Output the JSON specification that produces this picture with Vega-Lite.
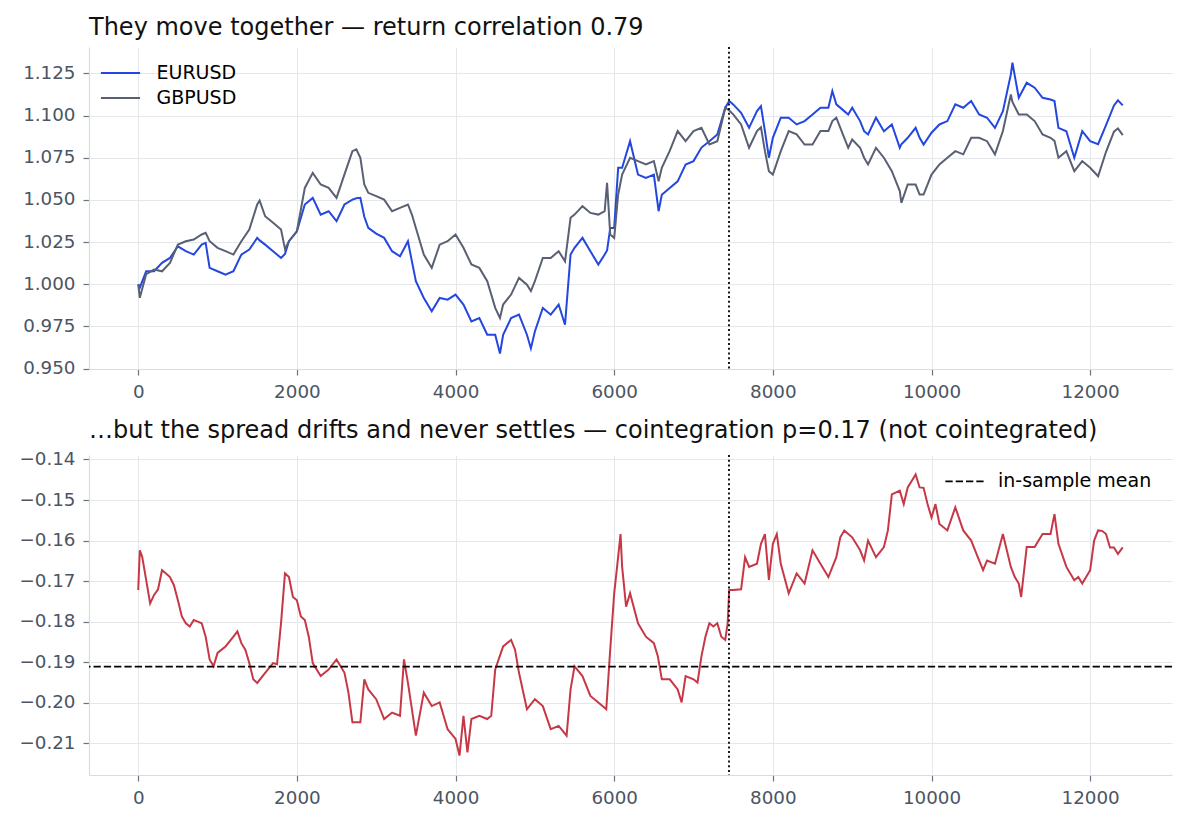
{
  "$schema": "https://vega.github.io/schema/vega-lite/v6.json",
  "background": "white",
  "padding": {"left": 18, "top": 16, "right": 13, "bottom": 10},
  "spacing": 86,
  "bounds": "flush",
  "config": {
    "view": {"stroke": null},
    "font": "DejaVu Sans",
    "axis": {
      "gridColor": "#e5e7eb", "gridWidth": 1,
      "domainColor": "#d8dbe2", "domainWidth": 1.2,
      "tickColor": "#6b7280", "tickSize": 6, "tickWidth": 1.2,
      "labelFont": "DejaVu Sans", "labelFontSize": 18.3, "labelColor": "#4b5563",
      "labelPadding": 8, "title": null
    },
    "title": {"font": "DejaVu Sans", "fontSize": 24, "fontWeight": "normal", "color": "#111111", "anchor": "start", "frame": "group", "baseline": "alphabetic", "offset": 6}
  },
  "resolve": {"scale": {"color": "independent"}, "legend": {"color": "independent"}},
  "datasets": {
    "fx": [
      {"t":0,"EURUSD":1.000,"GBPUSD":1.000},
      {"t":20,"EURUSD":0.998,"GBPUSD":0.992},
      {"t":100,"EURUSD":1.0077,"GBPUSD":1.006},
      {"t":200,"EURUSD":1.0077,"GBPUSD":1.0087},
      {"t":300,"EURUSD":1.0127,"GBPUSD":1.0077},
      {"t":400,"EURUSD":1.0156,"GBPUSD":1.0127},
      {"t":500,"EURUSD":1.0225,"GBPUSD":1.0235},
      {"t":600,"EURUSD":1.0196,"GBPUSD":1.0255},
      {"t":700,"EURUSD":1.0176,"GBPUSD":1.0265},
      {"t":800,"EURUSD":1.0235,"GBPUSD":1.0295},
      {"t":850,"EURUSD":1.0245,"GBPUSD":1.0305},
      {"t":900,"EURUSD":1.0097,"GBPUSD":1.0255},
      {"t":1000,"EURUSD":1.0077,"GBPUSD":1.0216},
      {"t":1100,"EURUSD":1.0057,"GBPUSD":1.0196},
      {"t":1200,"EURUSD":1.0077,"GBPUSD":1.0176},
      {"t":1300,"EURUSD":1.0176,"GBPUSD":1.0255},
      {"t":1400,"EURUSD":1.0206,"GBPUSD":1.0324},
      {"t":1500,"EURUSD":1.0275,"GBPUSD":1.0473},
      {"t":1530,"EURUSD":1.026,"GBPUSD":1.0496},
      {"t":1600,"EURUSD":1.0235,"GBPUSD":1.0403},
      {"t":1700,"EURUSD":1.0196,"GBPUSD":1.0364},
      {"t":1800,"EURUSD":1.0156,"GBPUSD":1.0324},
      {"t":1850,"EURUSD":1.018,"GBPUSD":1.021},
      {"t":1900,"EURUSD":1.0255,"GBPUSD":1.0255},
      {"t":2000,"EURUSD":1.0314,"GBPUSD":1.0314},
      {"t":2100,"EURUSD":1.0473,"GBPUSD":1.0571},
      {"t":2200,"EURUSD":1.0512,"GBPUSD":1.066},
      {"t":2300,"EURUSD":1.0413,"GBPUSD":1.0591},
      {"t":2400,"EURUSD":1.0433,"GBPUSD":1.0571},
      {"t":2500,"EURUSD":1.0374,"GBPUSD":1.0512},
      {"t":2600,"EURUSD":1.0473,"GBPUSD":1.0651},
      {"t":2700,"EURUSD":1.0502,"GBPUSD":1.0789},
      {"t":2750,"EURUSD":1.051,"GBPUSD":1.080},
      {"t":2800,"EURUSD":1.0512,"GBPUSD":1.075},
      {"t":2850,"EURUSD":1.040,"GBPUSD":1.0591},
      {"t":2900,"EURUSD":1.0334,"GBPUSD":1.0542},
      {"t":3000,"EURUSD":1.030,"GBPUSD":1.0522},
      {"t":3100,"EURUSD":1.0275,"GBPUSD":1.0502},
      {"t":3200,"EURUSD":1.0196,"GBPUSD":1.0433},
      {"t":3300,"EURUSD":1.0166,"GBPUSD":1.0453},
      {"t":3400,"EURUSD":1.0255,"GBPUSD":1.0473},
      {"t":3450,"EURUSD":1.0136,"GBPUSD":1.0413},
      {"t":3500,"EURUSD":1.0018,"GBPUSD":1.0334},
      {"t":3600,"EURUSD":0.9919,"GBPUSD":1.0176},
      {"t":3700,"EURUSD":0.984,"GBPUSD":1.0097},
      {"t":3800,"EURUSD":0.9919,"GBPUSD":1.0235},
      {"t":3900,"EURUSD":0.9909,"GBPUSD":1.0255},
      {"t":4000,"EURUSD":0.9939,"GBPUSD":1.0295},
      {"t":4100,"EURUSD":0.988,"GBPUSD":1.0216},
      {"t":4200,"EURUSD":0.978,"GBPUSD":1.0117},
      {"t":4300,"EURUSD":0.980,"GBPUSD":1.0097},
      {"t":4400,"EURUSD":0.9701,"GBPUSD":1.0018},
      {"t":4500,"EURUSD":0.9701,"GBPUSD":0.986},
      {"t":4560,"EURUSD":0.959,"GBPUSD":0.980},
      {"t":4600,"EURUSD":0.970,"GBPUSD":0.988},
      {"t":4700,"EURUSD":0.980,"GBPUSD":0.9939},
      {"t":4800,"EURUSD":0.982,"GBPUSD":1.0038},
      {"t":4900,"EURUSD":0.9701,"GBPUSD":0.9998},
      {"t":4950,"EURUSD":0.962,"GBPUSD":0.996},
      {"t":5000,"EURUSD":0.972,"GBPUSD":1.0018},
      {"t":5100,"EURUSD":0.986,"GBPUSD":1.0156},
      {"t":5200,"EURUSD":0.982,"GBPUSD":1.0156},
      {"t":5300,"EURUSD":0.988,"GBPUSD":1.0196},
      {"t":5380,"EURUSD":0.976,"GBPUSD":1.0136},
      {"t":5450,"EURUSD":1.0176,"GBPUSD":1.0394},
      {"t":5500,"EURUSD":1.0216,"GBPUSD":1.0413},
      {"t":5600,"EURUSD":1.0275,"GBPUSD":1.0463},
      {"t":5700,"EURUSD":1.0196,"GBPUSD":1.0423},
      {"t":5800,"EURUSD":1.0117,"GBPUSD":1.0413},
      {"t":5880,"EURUSD":1.0176,"GBPUSD":1.0433},
      {"t":5910,"EURUSD":1.020,"GBPUSD":1.0601},
      {"t":5950,"EURUSD":1.0334,"GBPUSD":1.0295},
      {"t":6000,"EURUSD":1.0334,"GBPUSD":1.0275},
      {"t":6050,"EURUSD":1.069,"GBPUSD":1.0532},
      {"t":6100,"EURUSD":1.069,"GBPUSD":1.065},
      {"t":6200,"EURUSD":1.0848,"GBPUSD":1.075},
      {"t":6300,"EURUSD":1.065,"GBPUSD":1.073},
      {"t":6400,"EURUSD":1.063,"GBPUSD":1.071},
      {"t":6500,"EURUSD":1.065,"GBPUSD":1.073},
      {"t":6560,"EURUSD":1.0433,"GBPUSD":1.061},
      {"t":6600,"EURUSD":1.053,"GBPUSD":1.069},
      {"t":6700,"EURUSD":1.057,"GBPUSD":1.079},
      {"t":6800,"EURUSD":1.061,"GBPUSD":1.0908},
      {"t":6900,"EURUSD":1.071,"GBPUSD":1.0848},
      {"t":7000,"EURUSD":1.073,"GBPUSD":1.0908},
      {"t":7100,"EURUSD":1.081,"GBPUSD":1.0927},
      {"t":7200,"EURUSD":1.0848,"GBPUSD":1.0828},
      {"t":7300,"EURUSD":1.0888,"GBPUSD":1.0848},
      {"t":7400,"EURUSD":1.1046,"GBPUSD":1.1046},
      {"t":7450,"EURUSD":1.1086,"GBPUSD":1.103},
      {"t":7500,"EURUSD":1.1066,"GBPUSD":1.1007},
      {"t":7600,"EURUSD":1.1016,"GBPUSD":1.0947},
      {"t":7700,"EURUSD":1.0927,"GBPUSD":1.0809},
      {"t":7800,"EURUSD":1.1026,"GBPUSD":1.0908},
      {"t":7850,"EURUSD":1.1056,"GBPUSD":1.093},
      {"t":7900,"EURUSD":1.0907,"GBPUSD":1.0789},
      {"t":7950,"EURUSD":1.075,"GBPUSD":1.067},
      {"t":8000,"EURUSD":1.0868,"GBPUSD":1.065},
      {"t":8100,"EURUSD":1.0987,"GBPUSD":1.0789},
      {"t":8200,"EURUSD":1.0987,"GBPUSD":1.0908},
      {"t":8300,"EURUSD":1.0947,"GBPUSD":1.0888},
      {"t":8400,"EURUSD":1.0967,"GBPUSD":1.0828},
      {"t":8500,"EURUSD":1.1006,"GBPUSD":1.0828},
      {"t":8600,"EURUSD":1.1046,"GBPUSD":1.0908},
      {"t":8700,"EURUSD":1.1046,"GBPUSD":1.0908},
      {"t":8750,"EURUSD":1.1145,"GBPUSD":1.0967},
      {"t":8800,"EURUSD":1.1066,"GBPUSD":1.0987},
      {"t":8900,"EURUSD":1.1026,"GBPUSD":1.0868},
      {"t":8950,"EURUSD":1.1006,"GBPUSD":1.0809},
      {"t":9000,"EURUSD":1.1046,"GBPUSD":1.0858},
      {"t":9100,"EURUSD":1.0967,"GBPUSD":1.0809},
      {"t":9150,"EURUSD":1.0907,"GBPUSD":1.075},
      {"t":9200,"EURUSD":1.0888,"GBPUSD":1.071},
      {"t":9300,"EURUSD":1.0987,"GBPUSD":1.0809},
      {"t":9400,"EURUSD":1.0907,"GBPUSD":1.075},
      {"t":9500,"EURUSD":1.0947,"GBPUSD":1.067},
      {"t":9600,"EURUSD":1.0809,"GBPUSD":1.0552},
      {"t":9620,"EURUSD":1.083,"GBPUSD":1.0482},
      {"t":9700,"EURUSD":1.0868,"GBPUSD":1.0591},
      {"t":9800,"EURUSD":1.0927,"GBPUSD":1.0591},
      {"t":9850,"EURUSD":1.0868,"GBPUSD":1.0532},
      {"t":9900,"EURUSD":1.0828,"GBPUSD":1.0532},
      {"t":10000,"EURUSD":1.0898,"GBPUSD":1.065},
      {"t":10100,"EURUSD":1.0947,"GBPUSD":1.071},
      {"t":10200,"EURUSD":1.0967,"GBPUSD":1.075},
      {"t":10300,"EURUSD":1.1066,"GBPUSD":1.0789},
      {"t":10400,"EURUSD":1.1046,"GBPUSD":1.077},
      {"t":10500,"EURUSD":1.1086,"GBPUSD":1.0868},
      {"t":10600,"EURUSD":1.1006,"GBPUSD":1.0868},
      {"t":10700,"EURUSD":1.0987,"GBPUSD":1.0848},
      {"t":10800,"EURUSD":1.0927,"GBPUSD":1.077},
      {"t":10900,"EURUSD":1.1026,"GBPUSD":1.0908},
      {"t":11000,"EURUSD":1.1244,"GBPUSD":1.1125},
      {"t":11020,"EURUSD":1.1313,"GBPUSD":1.108},
      {"t":11100,"EURUSD":1.1105,"GBPUSD":1.1006},
      {"t":11200,"EURUSD":1.1194,"GBPUSD":1.1006},
      {"t":11300,"EURUSD":1.1165,"GBPUSD":1.0967},
      {"t":11400,"EURUSD":1.1105,"GBPUSD":1.0888},
      {"t":11500,"EURUSD":1.1095,"GBPUSD":1.0868},
      {"t":11550,"EURUSD":1.1086,"GBPUSD":1.085},
      {"t":11600,"EURUSD":1.0927,"GBPUSD":1.075},
      {"t":11700,"EURUSD":1.0907,"GBPUSD":1.0789},
      {"t":11800,"EURUSD":1.075,"GBPUSD":1.067},
      {"t":11900,"EURUSD":1.0907,"GBPUSD":1.073},
      {"t":12000,"EURUSD":1.0848,"GBPUSD":1.069},
      {"t":12100,"EURUSD":1.083,"GBPUSD":1.064},
      {"t":12200,"EURUSD":1.0943,"GBPUSD":1.0785},
      {"t":12300,"EURUSD":1.106,"GBPUSD":1.0904},
      {"t":12350,"EURUSD":1.109,"GBPUSD":1.0924},
      {"t":12411,"EURUSD":1.106,"GBPUSD":1.0884}
    ],
    "spread": [
      {"t":0,"spread":-0.1722},{"t":20,"spread":-0.1624},{"t":50,"spread":-0.164},{"t":100,"spread":-0.1697},
      {"t":150,"spread":-0.1755},{"t":200,"spread":-0.1734},{"t":250,"spread":-0.172},{"t":300,"spread":-0.1673},
      {"t":350,"spread":-0.1681},{"t":400,"spread":-0.169},{"t":450,"spread":-0.171},{"t":500,"spread":-0.1747},
      {"t":550,"spread":-0.1787},{"t":600,"spread":-0.1804},{"t":650,"spread":-0.1812},{"t":700,"spread":-0.1796},
      {"t":750,"spread":-0.18},{"t":800,"spread":-0.1804},{"t":850,"spread":-0.1837},{"t":900,"spread":-0.1893},
      {"t":950,"spread":-0.191},{"t":1000,"spread":-0.1877},{"t":1100,"spread":-0.1861},{"t":1200,"spread":-0.1837},
      {"t":1250,"spread":-0.1824},{"t":1300,"spread":-0.1853},{"t":1350,"spread":-0.1869},{"t":1400,"spread":-0.1902},
      {"t":1450,"spread":-0.1942},{"t":1500,"spread":-0.1951},{"t":1600,"spread":-0.1926},{"t":1700,"spread":-0.1902},
      {"t":1750,"spread":-0.1905},{"t":1800,"spread":-0.1804},{"t":1850,"spread":-0.1681},{"t":1900,"spread":-0.169},
      {"t":1950,"spread":-0.1739},{"t":2000,"spread":-0.1747},{"t":2050,"spread":-0.1787},{"t":2100,"spread":-0.1796},
      {"t":2150,"spread":-0.1837},{"t":2200,"spread":-0.1902},{"t":2300,"spread":-0.1934},{"t":2400,"spread":-0.1918},
      {"t":2500,"spread":-0.1893},{"t":2600,"spread":-0.1926},{"t":2650,"spread":-0.1975},{"t":2700,"spread":-0.2048},
      {"t":2800,"spread":-0.2048},{"t":2850,"spread":-0.1942},{"t":2900,"spread":-0.1967},{"t":3000,"spread":-0.1991},
      {"t":3100,"spread":-0.204},{"t":3200,"spread":-0.2024},{"t":3300,"spread":-0.2032},{"t":3350,"spread":-0.1893},
      {"t":3400,"spread":-0.1951},{"t":3500,"spread":-0.2081},{"t":3600,"spread":-0.1975},{"t":3700,"spread":-0.2008},
      {"t":3800,"spread":-0.1999},{"t":3900,"spread":-0.2065},{"t":4000,"spread":-0.2089},{"t":4050,"spread":-0.213},
      {"t":4100,"spread":-0.2032},{"t":4150,"spread":-0.2122},{"t":4200,"spread":-0.204},{"t":4300,"spread":-0.2032},
      {"t":4400,"spread":-0.204},{"t":4450,"spread":-0.2032},{"t":4500,"spread":-0.1918},{"t":4600,"spread":-0.1861},
      {"t":4700,"spread":-0.1845},{"t":4750,"spread":-0.1869},{"t":4800,"spread":-0.1926},{"t":4900,"spread":-0.2016},
      {"t":5000,"spread":-0.1991},{"t":5100,"spread":-0.2008},{"t":5200,"spread":-0.2065},{"t":5300,"spread":-0.2057},
      {"t":5400,"spread":-0.2081},{"t":5450,"spread":-0.1967},{"t":5500,"spread":-0.191},{"t":5600,"spread":-0.1934},
      {"t":5700,"spread":-0.1983},{"t":5800,"spread":-0.1999},{"t":5900,"spread":-0.2016},{"t":5950,"spread":-0.1869},
      {"t":6000,"spread":-0.173},{"t":6050,"spread":-0.164},{"t":6080,"spread":-0.1584},{"t":6100,"spread":-0.1665},
      {"t":6150,"spread":-0.1763},{"t":6200,"spread":-0.173},{"t":6300,"spread":-0.1804},{"t":6400,"spread":-0.1837},
      {"t":6500,"spread":-0.1853},{"t":6550,"spread":-0.1885},{"t":6600,"spread":-0.1942},{"t":6700,"spread":-0.1942},
      {"t":6800,"spread":-0.1967},{"t":6850,"spread":-0.1999},{"t":6900,"spread":-0.1934},{"t":7000,"spread":-0.1942},
      {"t":7050,"spread":-0.195},{"t":7100,"spread":-0.1885},{"t":7150,"spread":-0.1837},{"t":7200,"spread":-0.1804},
      {"t":7250,"spread":-0.1812},{"t":7300,"spread":-0.1804},{"t":7350,"spread":-0.1837},{"t":7400,"spread":-0.1845},
      {"t":7430,"spread":-0.1804},{"t":7450,"spread":-0.1722},{"t":7500,"spread":-0.1722},{"t":7600,"spread":-0.172},
      {"t":7650,"spread":-0.1641},{"t":7700,"spread":-0.1665},{"t":7800,"spread":-0.1657},{"t":7850,"spread":-0.1608},
      {"t":7900,"spread":-0.1584},{"t":7950,"spread":-0.1697},{"t":8000,"spread":-0.1608},{"t":8050,"spread":-0.1584},
      {"t":8100,"spread":-0.1657},{"t":8200,"spread":-0.173},{"t":8300,"spread":-0.1681},{"t":8400,"spread":-0.1706},
      {"t":8500,"spread":-0.1624},{"t":8600,"spread":-0.1657},{"t":8700,"spread":-0.169},{"t":8800,"spread":-0.1641},
      {"t":8850,"spread":-0.1592},{"t":8900,"spread":-0.1575},{"t":9000,"spread":-0.1592},{"t":9050,"spread":-0.1608},
      {"t":9100,"spread":-0.1624},{"t":9150,"spread":-0.1649},{"t":9200,"spread":-0.16},{"t":9300,"spread":-0.1641},
      {"t":9400,"spread":-0.1616},{"t":9450,"spread":-0.1575},{"t":9500,"spread":-0.1486},{"t":9600,"spread":-0.1477},
      {"t":9650,"spread":-0.151},{"t":9700,"spread":-0.1469},{"t":9750,"spread":-0.1453},{"t":9800,"spread":-0.1437},
      {"t":9850,"spread":-0.1469},{"t":9900,"spread":-0.147},{"t":9950,"spread":-0.151},{"t":10000,"spread":-0.1543},
      {"t":10050,"spread":-0.151},{"t":10100,"spread":-0.1559},{"t":10200,"spread":-0.1575},{"t":10300,"spread":-0.1518},
      {"t":10400,"spread":-0.1575},{"t":10500,"spread":-0.16},{"t":10600,"spread":-0.1649},{"t":10650,"spread":-0.1673},
      {"t":10700,"spread":-0.1649},{"t":10800,"spread":-0.1657},{"t":10900,"spread":-0.1584},{"t":11000,"spread":-0.1665},
      {"t":11050,"spread":-0.169},{"t":11100,"spread":-0.1706},{"t":11130,"spread":-0.1739},{"t":11200,"spread":-0.1616},
      {"t":11300,"spread":-0.1616},{"t":11400,"spread":-0.1584},{"t":11500,"spread":-0.1584},{"t":11550,"spread":-0.1535},
      {"t":11600,"spread":-0.1608},{"t":11700,"spread":-0.1665},{"t":11800,"spread":-0.1698},{"t":11850,"spread":-0.169},
      {"t":11900,"spread":-0.1706},{"t":12000,"spread":-0.1673},{"t":12050,"spread":-0.16},{"t":12100,"spread":-0.1575},
      {"t":12150,"spread":-0.1576},{"t":12200,"spread":-0.1584},{"t":12250,"spread":-0.1617},{"t":12300,"spread":-0.1617},
      {"t":12350,"spread":-0.1633},{"t":12411,"spread":-0.1617}
    ],
    "split": [{"t": 7447}],
    "mean": [{"mean": -0.1911, "label": "in-sample mean"}]
  },
  "vconcat": [
    {
      "width": 1083, "height": 322,
      "title": "They move together — return correlation 0.79",
      "layer": [
        {
          "data": {"name": "fx"},
          "transform": [{"fold": ["EURUSD", "GBPUSD"], "as": ["pair", "price"]}],
          "mark": {"type": "line", "strokeWidth": 2},
          "encoding": {
            "x": {"field": "t", "type": "quantitative", "scale": {"domain": [-620.55, 13031.55], "nice": false, "zero": false}, "axis": {"values": [0, 2000, 4000, 6000, 8000, 10000, 12000], "format": "d"}},
            "y": {"field": "price", "type": "quantitative", "scale": {"domain": [0.9498, 1.1406], "nice": false, "zero": false}, "axis": {"values": [0.95, 0.975, 1.0, 1.025, 1.05, 1.075, 1.1, 1.125], "format": ".3f"}},
            "color": {
              "field": "pair", "type": "nominal",
              "scale": {"domain": ["EURUSD", "GBPUSD"], "range": ["#2347df", "#5a6073"]},
              "legend": {"title": null, "orient": "none", "legendX": 16.5, "legendY": 11, "symbolType": "M-1.4,0H1.4", "symbolSize": 784, "symbolStrokeWidth": 2, "labelFont": "DejaVu Sans", "labelFontSize": 19, "labelColor": "#000000", "labelOffset": 21, "rowPadding": 0, "padding": 0}
            }
          }
        },
        {
          "data": {"name": "split"},
          "mark": {"type": "rule", "color": "#000000", "strokeWidth": 1.8, "strokeDash": [2, 2.7]},
          "encoding": {"x": {"field": "t", "type": "quantitative"}}
        }
      ]
    },
    {
      "width": 1083, "height": 320,
      "title": "…but the spread drifts and never settles — cointegration p=0.17 (not cointegrated)",
      "layer": [
        {
          "data": {"name": "spread"},
          "mark": {"type": "line", "strokeWidth": 2, "color": "#c73846"},
          "encoding": {
            "x": {"field": "t", "type": "quantitative", "scale": {"domain": [-620.55, 13031.55], "nice": false, "zero": false}, "axis": {"values": [0, 2000, 4000, 6000, 8000, 10000, 12000], "format": "d"}},
            "y": {"field": "spread", "type": "quantitative", "scale": {"domain": [-0.2178, -0.1389], "nice": false, "zero": false}, "axis": {"values": [-0.21, -0.2, -0.19, -0.18, -0.17, -0.16, -0.15, -0.14], "format": ".2f"}}
          }
        },
        {
          "data": {"name": "mean"},
          "mark": {"type": "rule", "strokeWidth": 1.8, "strokeDash": [7.3, 3]},
          "encoding": {
            "y": {"field": "mean", "type": "quantitative"},
            "color": {
              "field": "label", "type": "nominal",
              "scale": {"domain": ["in-sample mean"], "range": ["#000000"]},
              "legend": {"title": null, "orient": "none", "legendX": 861, "legendY": 11.3, "symbolType": "M-1.4,0H1.4", "symbolSize": 784, "symbolStrokeWidth": 1.8, "symbolDash": [7.3, 3], "labelFont": "DejaVu Sans", "labelFontSize": 19, "labelColor": "#000000", "labelOffset": 18, "rowPadding": 0, "padding": 0}
            }
          }
        },
        {
          "data": {"name": "split"},
          "mark": {"type": "rule", "color": "#000000", "strokeWidth": 1.8, "strokeDash": [2, 2.7]},
          "encoding": {"x": {"field": "t", "type": "quantitative"}}
        }
      ]
    }
  ]
}
